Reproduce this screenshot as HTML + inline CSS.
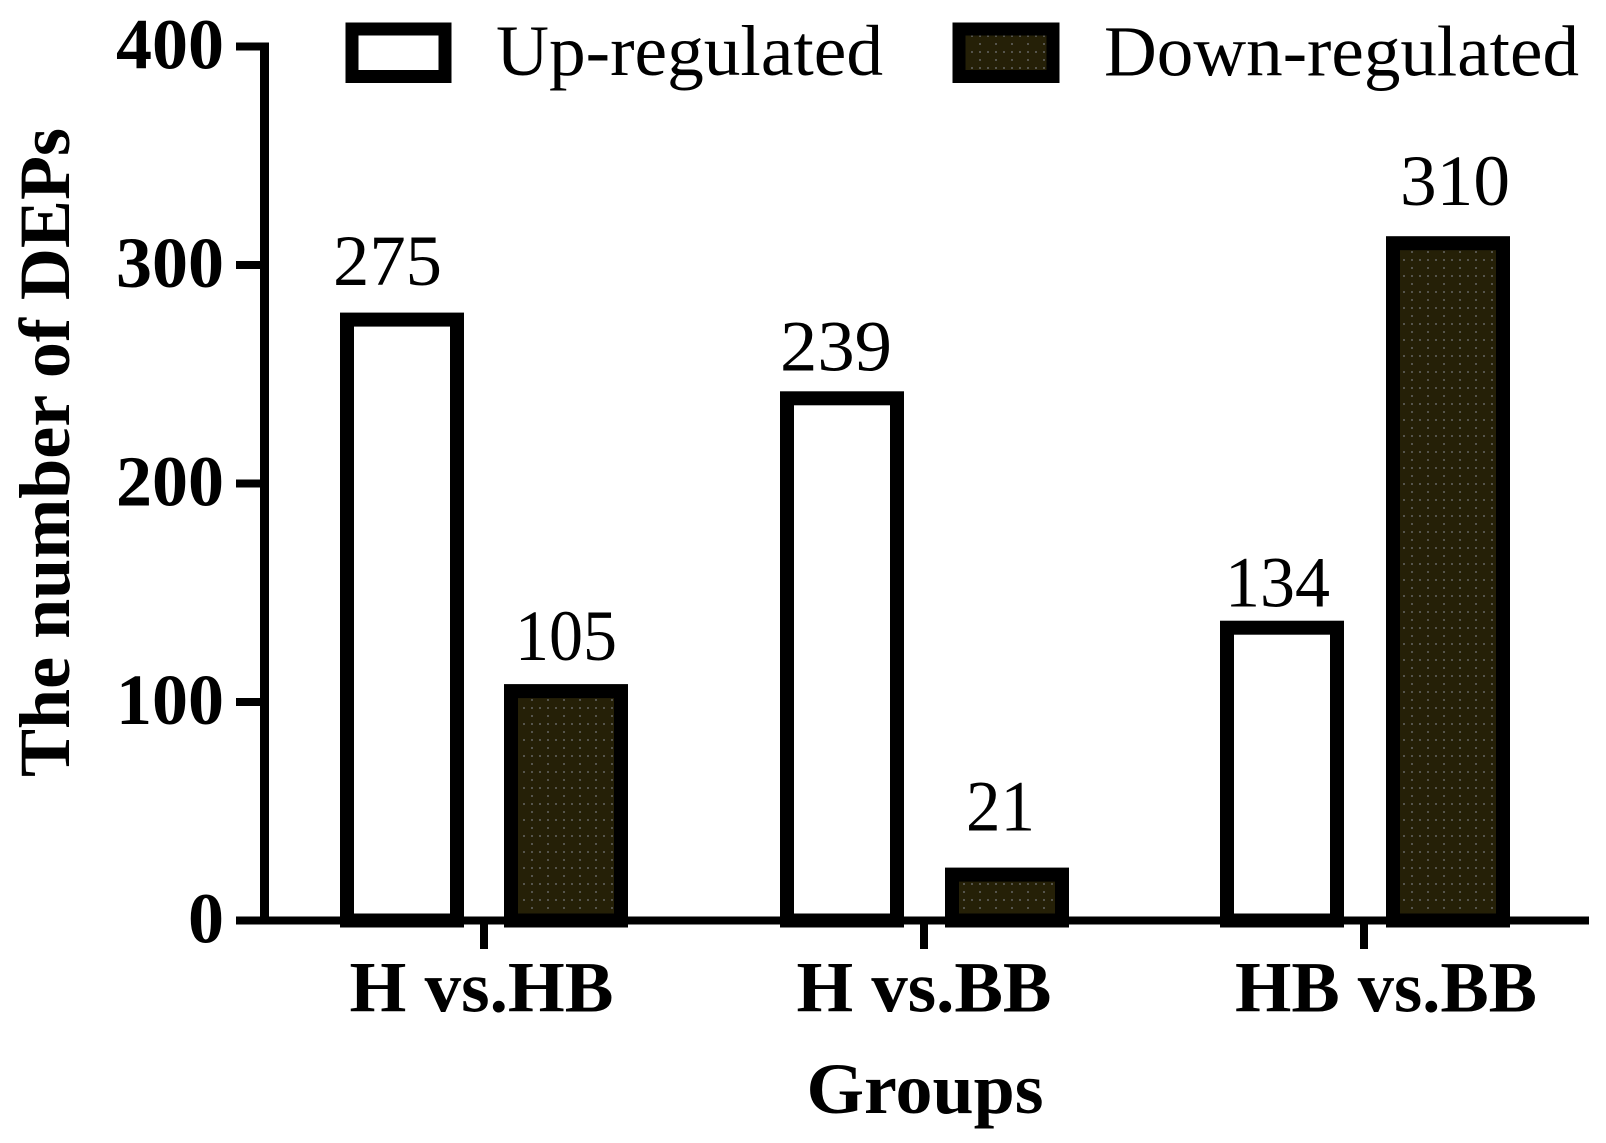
<!DOCTYPE html>
<html>
<head>
<meta charset="utf-8">
<style>
  html, body { margin: 0; padding: 0; background: #ffffff; }
  svg { display: block; }
  text { font-family: "Liberation Serif", "Times New Roman", serif; fill: #000; }
  .b { font-weight: bold; }
</style>
</head>
<body>
<svg width="1606" height="1143" viewBox="0 0 1606 1143" xmlns="http://www.w3.org/2000/svg">
  <defs>
    <pattern id="dots" width="16" height="16" patternUnits="userSpaceOnUse">
      <rect width="16" height="16" fill="#252007"/>
      <rect x="3" y="3" width="2" height="2" fill="#55544c"/>
      <rect x="11" y="3" width="2" height="2" fill="#55544c"/>
      <rect x="3" y="11" width="2" height="2" fill="#55544c"/>
    </pattern>
  </defs>
  <rect width="1606" height="1143" fill="#ffffff"/>

  <!-- Bars: up-regulated (white) -->
  <g stroke="#000" stroke-width="14" stroke-linejoin="miter">
    <rect x="347" y="319.6" width="110" height="600.9" fill="#ffffff"/>
    <rect x="787" y="398.3" width="110" height="522.2" fill="#ffffff"/>
    <rect x="1227" y="627.7" width="110" height="292.8" fill="#ffffff"/>
    <!-- down-regulated (dark dotted) -->
    <rect x="511" y="691.1" width="110" height="229.4" fill="url(#dots)"/>
    <rect x="952" y="874.6" width="110" height="45.9" fill="url(#dots)"/>
    <rect x="1393" y="243.2" width="110" height="677.3" fill="url(#dots)"/>
  </g>

  <!-- Y axis -->
  <rect x="260" y="42.5" width="9" height="882" fill="#000"/>
  <!-- Y ticks -->
  <rect x="236" y="42.5" width="30" height="8" fill="#000"/>
  <rect x="236" y="261" width="30" height="8" fill="#000"/>
  <rect x="236" y="479.5" width="30" height="8" fill="#000"/>
  <rect x="236" y="698" width="30" height="8" fill="#000"/>
  <!-- X axis -->
  <rect x="236" y="916.5" width="1353" height="8" fill="#000"/>
  <!-- X ticks -->
  <rect x="480" y="920" width="8" height="29" fill="#000"/>
  <rect x="920" y="920" width="8" height="29" fill="#000"/>
  <rect x="1360" y="920" width="8" height="29" fill="#000"/>

  <!-- Y tick labels -->
  <g class="b" font-size="72" text-anchor="end">
    <text class="b" x="224" y="68.5">400</text>
    <text class="b" x="224" y="287">300</text>
    <text class="b" x="224" y="505.5">200</text>
    <text class="b" x="224" y="724">100</text>
    <text class="b" x="224" y="942.5">0</text>
  </g>

  <!-- Y axis title -->
  <text class="b" font-size="72" transform="translate(69,777) rotate(-90)" x="0" y="0" textLength="649" lengthAdjust="spacingAndGlyphs">The number of DEPs</text>

  <!-- Value labels -->
  <g font-size="72">
    <text x="333" y="285" textLength="109" lengthAdjust="spacingAndGlyphs">275</text>
    <text x="515" y="660" textLength="102" lengthAdjust="spacingAndGlyphs">105</text>
    <text x="780" y="370.5" textLength="112" lengthAdjust="spacingAndGlyphs">239</text>
    <text x="966" y="830.5" textLength="69" lengthAdjust="spacingAndGlyphs">21</text>
    <text x="1225" y="606.5" textLength="105" lengthAdjust="spacingAndGlyphs">134</text>
    <text x="1400" y="205" textLength="110" lengthAdjust="spacingAndGlyphs">310</text>
  </g>

  <!-- Category labels -->
  <g font-size="72">
    <text class="b" x="349.5" y="1011.5" textLength="264" lengthAdjust="spacingAndGlyphs">H vs.HB</text>
    <text class="b" x="796.5" y="1011.5" textLength="255" lengthAdjust="spacingAndGlyphs">H vs.BB</text>
    <text class="b" x="1235" y="1011.5" textLength="302" lengthAdjust="spacingAndGlyphs">HB vs.BB</text>
    <text class="b" x="806.5" y="1113" textLength="237" lengthAdjust="spacingAndGlyphs">Groups</text>
  </g>

  <!-- Legend -->
  <rect x="352" y="29" width="93" height="47.5" fill="#ffffff" stroke="#000" stroke-width="13"/>
  <text x="496" y="75" font-size="72" textLength="387" lengthAdjust="spacingAndGlyphs">Up-regulated</text>
  <rect x="959" y="29" width="94" height="47.5" fill="url(#dots)" stroke="#000" stroke-width="13"/>
  <text x="1104" y="75.5" font-size="72" textLength="475" lengthAdjust="spacingAndGlyphs">Down-regulated</text>
</svg>
</body>
</html>
